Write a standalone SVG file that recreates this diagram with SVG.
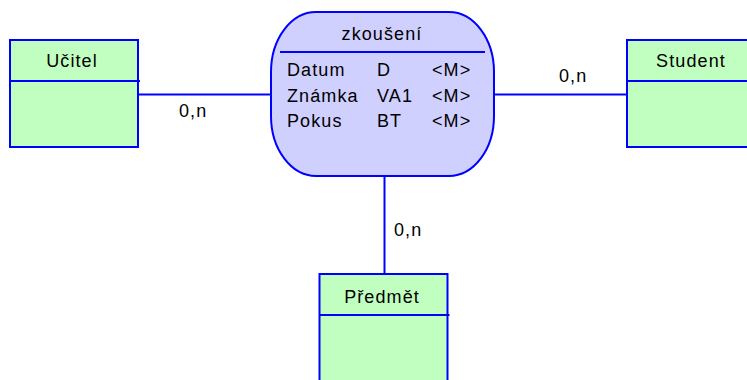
<svg xmlns="http://www.w3.org/2000/svg" width="747" height="380" viewBox="0 0 747 380">
  <style>
    .entity { fill: #c0ffc0; stroke: #0000ff; stroke-width: 2; }
    .relation { fill: #d0d0ff; stroke: #0000ff; stroke-width: 2; }
    .sep { stroke: #0000ff; stroke-width: 2; fill: none; }
    .link { stroke: #0000ff; stroke-width: 2; fill: none; }
    text { font-family: "Liberation Sans", Arial, sans-serif; font-size: 18px; letter-spacing: 1.1px; fill: #000; }
    .title { text-anchor: middle; }
  </style>

  <!-- connectors -->
  <g id="connectors">
    <line class="link" x1="138" y1="94.5" x2="271" y2="94.5"/>
    <line class="link" x1="494" y1="94.5" x2="627" y2="94.5"/>
    <line class="link" x1="384.5" y1="176" x2="384.5" y2="274"/>
    <text x="179" y="117">0,n</text>
    <text x="559" y="82">0,n</text>
    <text x="394" y="236">0,n</text>
  </g>

  <!-- entity: Učitel -->
  <g id="ucitel">
    <rect class="entity" x="10" y="40" width="128" height="107"/>
    <line class="sep" x1="10" y1="81" x2="140" y2="81"/>
    <text class="title" x="72" y="67">Učitel</text>
  </g>

  <!-- entity: Student -->
  <g id="student">
    <rect class="entity" x="627" y="40" width="128" height="107"/>
    <line class="sep" x1="627" y1="81" x2="757" y2="81"/>
    <text class="title" x="691" y="67">Student</text>
  </g>

  <!-- entity: Předmět -->
  <g id="predmet">
    <rect class="entity" x="319.5" y="274" width="128" height="120"/>
    <line class="sep" x1="319.5" y1="315" x2="449.5" y2="315"/>
    <text class="title" x="382" y="303">Předmět</text>
  </g>

  <!-- relationship: zkoušení -->
  <g id="zkouseni">
    <rect class="relation" x="271" y="12" width="223" height="164" rx="45" ry="60"/>
    <line class="sep" x1="280" y1="52" x2="485" y2="52"/>
    <text class="title" x="382" y="40">zkoušení</text>
    <text x="287" y="76">Datum</text>
    <text x="377" y="76">D</text>
    <text x="432" y="76">&lt;M&gt;</text>
    <text x="287" y="101.5">Známka</text>
    <text x="377" y="101.5">VA1</text>
    <text x="432" y="101.5">&lt;M&gt;</text>
    <text x="287" y="127">Pokus</text>
    <text x="377" y="127">BT</text>
    <text x="432" y="127">&lt;M&gt;</text>
  </g>
</svg>
